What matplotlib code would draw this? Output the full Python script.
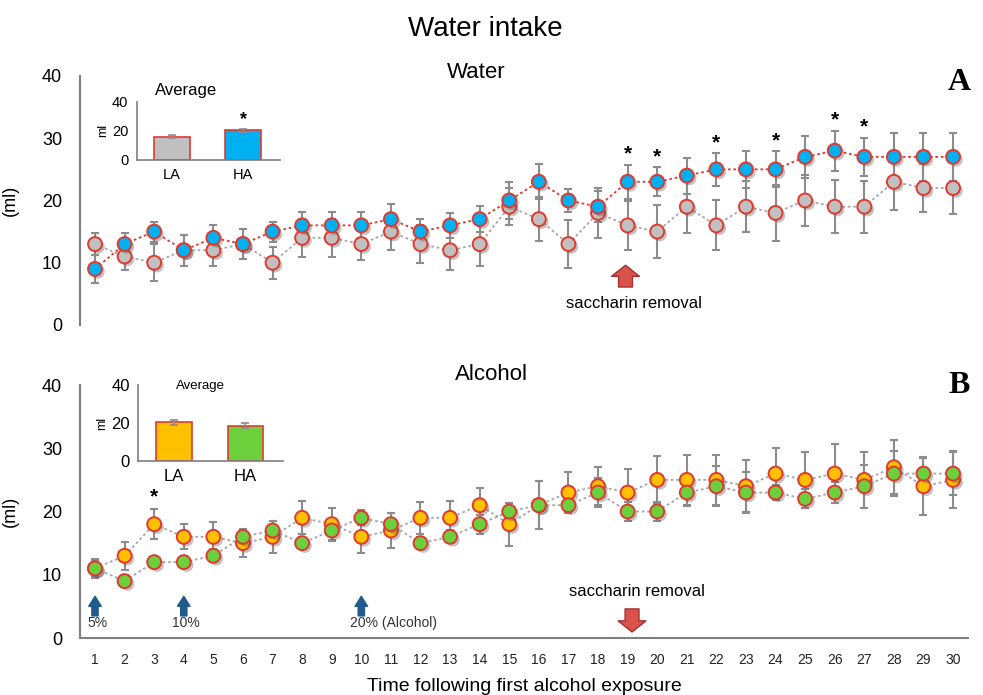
import matplotlib
matplotlib.use("Agg")
import matplotlib.pyplot as plt
import matplotlib.patheffects as pe
import numpy as np

plt.rcParams['font.family'] = ['Liberation Sans', 'DejaVu Sans']

days = list(range(1, 31))

# Water panel
water_la = [13, 11, 10, 12, 12, 13, 10, 14, 14, 13, 15, 13, 12, 13, 19,
            17, 13, 18, 16, 15, 19, 16, 19, 18, 20, 19, 19, 23, 22, 22]
water_la_err = [1.7, 2.2, 3.0, 2.5, 2.6, 2.4, 2.6, 3.1, 3.0, 2.5, 2.9, 3.1, 3.1, 3.5, 3.0,
                3.5, 3.9, 4.0, 3.9, 4.2, 4.2, 4.0, 4.1, 4.5, 4.1, 4.3, 4.2, 4.5, 3.8, 4.1]
water_ha = [9, 13, 15, 12, 14, 13, 15, 16, 16, 16, 17, 15, 16, 17, 20,
            23, 20, 19, 23, 23, 24, 25, 25, 25, 27, 28, 27, 27, 27, 27]
water_ha_err = [2.2, 1.7, 1.6, 2.5, 2.0, 2.4, 1.6, 2.2, 2.2, 2.1, 2.4, 2.0, 2.0, 2.1, 2.9,
                2.8, 1.8, 2.5, 2.7, 2.3, 2.9, 2.6, 3.0, 2.9, 3.4, 3.2, 3.1, 3.9, 3.8, 3.8]
water_sig = [19, 20, 22, 24, 26, 27]

# Alcohol panel
alc_la = [11, 13, 18, 16, 16, 15, 16, 19, 18, 16, 17, 19, 19, 21, 18,
          21, 23, 24, 23, 25, 25, 25, 24, 26, 25, 26, 25, 27, 24, 25]
alc_la_err = [1.5, 2.2, 2.4, 2.0, 2.4, 2.2, 2.5, 2.6, 2.5, 2.6, 2.8, 2.5, 2.6, 2.7, 3.4,
              3.8, 3.2, 3.0, 3.7, 3.8, 4.0, 4.0, 4.1, 4.0, 4.4, 4.6, 4.4, 4.3, 4.6, 4.5]
alc_ha = [11, 9, 12, 12, 13, 16, 17, 15, 17, 19, 18, 15, 16, 18, 20,
          21, 21, 23, 20, 20, 23, 24, 23, 23, 22, 23, 24, 26, 26, 26]
alc_ha_err = [1.4, 1.0, 1.0, 1.0, 1.0, 1.1, 1.5, 1.0, 1.7, 1.2, 1.8, 1.0, 1.0, 1.5, 1.3,
              3.8, 1.2, 2.3, 1.5, 1.5, 2.1, 3.2, 3.2, 1.2, 1.5, 1.7, 3.4, 3.6, 2.4, 3.4]
alc_sig = [3]

# averages for the insets
groups = ['LA', 'HA']
water_avg = [16, 20.3]
water_avg_err = [0.8, 1.2]
alc_avg = [20.4, 18.6]
alc_avg_err = [1.4, 1.2]

# alcohol concentration steps
conc_days = [1, 4, 10]
conc_labels = ['5%', '10%', '20% (Alcohol)']

RED = '#e0392f'
GREY_FILL = '#c0c0c0'
BLUE = '#00b0f0'
ORANGE = '#ffc000'
GREEN = '#6ccf3c'
ERR = '#8c8c8c'
SPINE = '#7f7f7f'

shadow = [pe.SimplePatchShadow(offset=(2, -2), shadow_rgbFace='#555555', alpha=0.35), pe.Normal()]


def series(ax, y, err, face, line_col, z):
    ax.errorbar(days, y, yerr=err, fmt='none', ecolor=ERR, elinewidth=1.5,
                capsize=3, capthick=1.5, zorder=2)
    ax.plot(days, y, ls=(0, (1.5, 1.5)), color=line_col, lw=1.3, zorder=3)
    ax.plot(days, y, ls='none', marker='o', ms=10, mfc=face, mec=RED,
            mew=1.4, zorder=z, path_effects=shadow)


def style_main(ax):
    ax.set_xlim(0.5, 30.5)
    ax.set_ylim(0, 40)
    ax.set_yticks([0, 10, 20, 30, 40])
    ax.tick_params(axis='y', length=0, labelsize=13, pad=13)
    ax.set_ylabel('(ml)', fontsize=13)
    ax.yaxis.set_label_coords(-0.069, 0.5)
    for s in ['top', 'right']:
        ax.spines[s].set_visible(False)
    ax.spines['left'].set_color(SPINE)
    ax.spines['left'].set_linewidth(1.5)


def inset(rect, vals, errs, colors, title, tsize, tpos, lsize):
    ia = fig.add_axes(rect)
    ia.bar([0, 1], vals, width=0.5, color=colors, edgecolor=RED, linewidth=1.2,
           yerr=errs, ecolor=ERR, capsize=3, error_kw=dict(elinewidth=1.2, capthick=1.2))
    ia.set_xlim(-0.5, 1.52)
    ia.set_ylim(0, 40)
    ia.set_yticks([0, 20, 40])
    ia.set_xticks([0, 1])
    ia.set_xticklabels(groups)
    ia.tick_params(length=0, labelsize=lsize, pad=6)
    ia.set_ylabel('ml', fontsize=9, labelpad=2)
    for s in ['top', 'right']:
        ia.spines[s].set_visible(False)
    for s in ['left', 'bottom']:
        ia.spines[s].set_color(SPINE)
        ia.spines[s].set_linewidth(1.2)
    ia.text(tpos[0], tpos[1], title, transform=ia.transAxes, ha='center', va='center',
            fontsize=tsize)
    ia.patch.set_alpha(0)
    return ia


fig = plt.figure(figsize=(9.83, 6.95), dpi=100)
fig.text(0.494, 0.958, 'Water intake', ha='center', va='center', fontsize=20)

# --- A: water ---
axA = fig.add_axes([0.0816, 0.5324, 0.903, 0.3583])
style_main(axA)
axA.spines['bottom'].set_visible(False)
axA.set_xticks([])
series(axA, water_la, water_la_err, GREY_FILL, '#a6a6a6', 4)
series(axA, water_ha, water_ha_err, BLUE, RED, 5)
for d in water_sig:
    i = d - 1
    axA.text(d, water_ha[i] + water_ha_err[i] + 0.2, '*', ha='center', va='bottom',
             fontsize=15, fontweight='bold')
axA.text(13.9, 40.6, 'Water', ha='center', va='center', fontsize=16)
axA.text(30.2, 39.0, 'A', ha='center', va='center', fontsize=23, fontweight='bold',
         family='Liberation Serif')
axA.annotate('', xy=(18.93, 9.6), xytext=(18.93, 6.1),
             arrowprops=dict(arrowstyle='simple,head_width=1,head_length=0.4,tail_width=0.5',
                             mutation_scale=20, fc='#d9534a', ec='#a33030', lw=1,
                             shrinkA=0, shrinkB=0))
axA.text(19.2, 3.5, 'saccharin removal', ha='center', va='center', fontsize=12)

# --- B: alcohol ---
axB = fig.add_axes([0.0816, 0.0820, 0.903, 0.3640])
style_main(axB)
axB.spines['bottom'].set_color(SPINE)
axB.spines['bottom'].set_linewidth(1.5)
axB.set_xticks(days)
axB.tick_params(axis='x', length=0, labelsize=10, pad=11, labelcolor='#222222')
series(axB, alc_la, alc_la_err, ORANGE, '#a6a6a6', 4)
series(axB, alc_ha, alc_ha_err, GREEN, '#a6a6a6', 5)
for d in alc_sig:
    i = d - 1
    axB.text(d, alc_la[i] + alc_la_err[i] + 0.4, '*', ha='center', va='bottom',
             fontsize=15, fontweight='bold')
axB.text(14.4, 41.6, 'Alcohol', ha='center', va='center', fontsize=16)
axB.text(30.2, 40.0, 'B', ha='center', va='center', fontsize=23, fontweight='bold',
         family='Liberation Serif')
axB.annotate('', xy=(19.15, 0.95), xytext=(19.15, 4.6),
             arrowprops=dict(arrowstyle='simple,head_width=1,head_length=0.4,tail_width=0.5',
                             mutation_scale=20, fc='#d9534a', ec='#a33030', lw=1,
                             shrinkA=0, shrinkB=0))
axB.text(19.3, 7.4, 'saccharin removal', ha='center', va='center', fontsize=12)
for d, lab in zip(conc_days, conc_labels):
    axB.annotate('', xy=(d, 6.6), xytext=(d, 3.5),
                 arrowprops=dict(arrowstyle='simple,head_width=1,head_length=0.8,tail_width=0.5',
                                 mutation_scale=9, fc='#1f5b8c', ec='#1f5b8c',
                                 shrinkA=0, shrinkB=0))
    if len(lab) > 4:
        axB.text(d - 0.37, 2.3, lab, ha='left', va='center', fontsize=10, color='#333333')
    else:
        axB.text(d + 0.07, 2.3, lab, ha='center', va='center', fontsize=10, color='#333333')
axB.set_xlabel('Time following first alcohol exposure', fontsize=14, labelpad=8)

# --- insets ---
ia = inset([0.139, 0.7698, 0.1458, 0.0839], water_avg, water_avg_err,
           [GREY_FILL, BLUE], 'Average', 12, (0.344, 1.2), 10.5)
ia.text(1, water_avg[1] + water_avg_err[1] + 0.5, '*', ha='center', va='bottom',
        fontsize=13, fontweight='bold')
inset([0.1404, 0.3367, 0.1472, 0.1094], alc_avg, alc_avg_err,
      [ORANGE, GREEN], 'Average', 9.5, (0.43, 0.98), 12)

fig.savefig('out.png', dpi=100)
